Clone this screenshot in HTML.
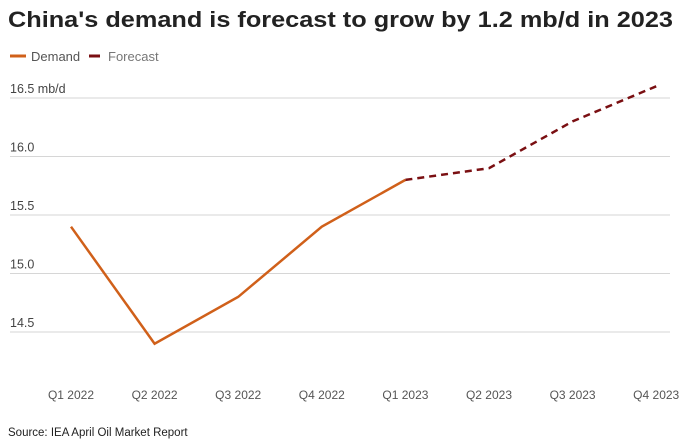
<!DOCTYPE html>
<html><head><meta charset="utf-8"><style>
body{margin:0;background:#fff;font-family:"Liberation Sans",sans-serif;}
svg{display:block}
</style></head><body>
<svg id="chart" width="700" height="442">
<text x="8" y="27" font-size="22.5" font-weight="bold" fill="#222" textLength="665" lengthAdjust="spacingAndGlyphs">China's demand is forecast to grow by 1.2 mb/d in 2023</text>
<g>
<line x1="10" y1="56" x2="26" y2="56" stroke="#d0601a" stroke-width="3"/>
<text x="31" y="61" font-size="13" fill="#555">Demand</text>
<line x1="89" y1="56" x2="100" y2="56" stroke="#7a0f12" stroke-width="3"/>
<text x="108" y="61" font-size="13" fill="#777">Forecast</text>
</g>
<g id="grid"></g><g id="xl"></g><g id="series"></g>
<text x="8" y="436" font-size="11.5" fill="#222">Source: IEA April Oil Market Report</text>
</svg>
<script>
const categories=["Q1 2022","Q2 2022","Q3 2022","Q4 2022","Q1 2023","Q2 2023","Q3 2023","Q4 2023"];
const demand=[15.4,14.4,14.8,15.4,15.8,null,null,null];
const forecast=[null,null,null,null,15.8,15.9,16.3,16.6];
const yTicks=[14.5,15.0,15.5,16.0,16.5];
const yTickLabels=["14.5","15.0","15.5","16.0","16.5 mb/d"];
const NS="http://www.w3.org/2000/svg";
const x=i=>71+i*83.6;
const y=v=>332-(v-14.5)*117;
function mk(t,a,p){const e=document.createElementNS(NS,t);for(const k in a)e.setAttribute(k,a[k]);p.appendChild(e);return e;}
const g=document.getElementById('grid');
yTicks.forEach((v,i)=>{
 const l=mk('line',{x1:10,x2:670,y1:y(v),y2:y(v),stroke:'#d6d6d6','stroke-width':1},g);
 
 
 const t=mk('text',{x:10,y:y(v)-5,'font-size':12.5,fill:'#444'},g);
 t.textContent=yTickLabels[i];
 
 
});
const xl=document.getElementById('xl');
categories.forEach((c,i)=>{
 const t=mk('text',{x:x(i),y:399,'font-size':12,fill:'#555','text-anchor':'middle'},xl);
 t.textContent=c;
 
 
});
function path(arr){let d='';arr.forEach((v,i)=>{if(v!=null)d+=(d?'L':'M')+x(i)+' '+y(v);});return d;}
const s=document.getElementById('series');
const p1=mk('path',{d:path(demand),fill:'none',stroke:'#d0601a','stroke-width':2.5},s);


const p2=mk('path',{d:path(forecast),fill:'none',stroke:'#7a0f12','stroke-width':2.5,'stroke-dasharray':'7 5'},s);


</script>
</body></html>
